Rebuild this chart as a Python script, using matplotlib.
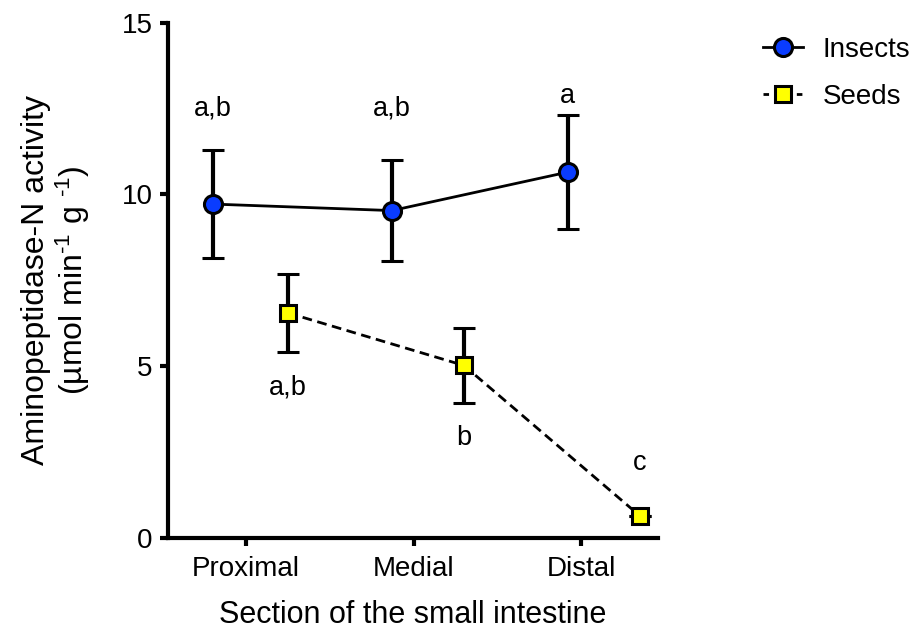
import numpy as np
import matplotlib.pyplot as plt
from matplotlib.lines import Line2D

plt.rcParams['font.family'] = ['Liberation Sans', 'DejaVu Sans']
plt.rcParams['mathtext.fontset'] = 'custom'
plt.rcParams['mathtext.rm'] = 'Liberation Sans'
plt.rcParams['mathtext.it'] = 'Liberation Sans'

# Data
sections = ['Proximal', 'Medial', 'Distal']
insects_mean = [9.72, 9.53, 10.65]
insects_err = [1.57, 1.48, 1.65]
seeds_mean = [6.55, 5.02, 0.64]
seeds_err = [1.13, 1.09, 0.0]
insects_letters = ['a,b', 'a,b', 'a']
seeds_letters = ['a,b', 'b', 'c']
insects_letter_y = [12.5, 12.5, 12.88]
seeds_letter_y = [4.37, 2.92, 2.19]

# horizontal dodge of each series around the category tick
insects_dx = np.array([-0.20, -0.13, -0.08])
seeds_dx = np.array([0.25, 0.30, 0.35])

x = np.arange(len(sections))

fig = plt.figure(figsize=(9.13, 6.32), dpi=100)
ax = fig.add_axes([0.184, 0.149, 0.537, 0.815])

ax.errorbar(x + insects_dx, insects_mean, yerr=insects_err, color='black',
            linestyle='-', linewidth=2, elinewidth=3, capsize=8, capthick=3,
            marker='o', markersize=13, markerfacecolor='#0a3cff',
            markeredgecolor='black', markeredgewidth=2.2, zorder=3)
ax.errorbar(x + seeds_dx, seeds_mean, yerr=seeds_err, color='black',
            linestyle='--', dashes=(3.5, 2), linewidth=2, elinewidth=3,
            capsize=8, capthick=3, marker='s', markersize=12,
            markerfacecolor='#ffff00', markeredgecolor='black',
            markeredgewidth=2.2, zorder=3)

# significance letters
for i in range(len(sections)):
    ax.text(x[i] + insects_dx[i], insects_letter_y[i], insects_letters[i],
            ha='center', va='center', fontsize=19.5)
    ax.text(x[i] + seeds_dx[i], seeds_letter_y[i], seeds_letters[i],
            ha='center', va='center', fontsize=19.5)

ax.set_xlim(-0.466, 2.46)
ax.set_ylim(0, 15)
ax.set_yticks([0, 5, 10, 15])
ax.set_xticks(x)
ax.set_xticklabels(sections)

for s in ['top', 'right']:
    ax.spines[s].set_visible(False)
for s in ['left', 'bottom']:
    ax.spines[s].set_linewidth(3)
ax.tick_params(width=3, length=6, labelsize=20, pad=5)
ax.tick_params(axis='x', pad=7)

ax.set_xlabel('Section of the small intestine', fontsize=22, labelpad=13)
ax.set_ylabel('Aminopeptidase-N activity\n(µmol min$^{\\text{-}1}$ g $^{\\text{-}1}$)',
              fontsize=23, linespacing=1.1)
ax.yaxis.set_label_coords(-0.155, 0.5)

handles = [
    Line2D([], [], color='black', linewidth=2, marker='o', markersize=13,
           markerfacecolor='#0a3cff', markeredgecolor='black',
           markeredgewidth=2.2),
    Line2D([], [], color='black', linewidth=2, linestyle='--', dashes=(2, 2),
           marker='s', markersize=12, markerfacecolor='#ffff00',
           markeredgecolor='black', markeredgewidth=2.2),
]
fig.legend(handles, ['Insects', 'Seeds'], loc='upper left',
           bbox_to_anchor=(0.808, 0.981), frameon=False, fontsize=20,
           handlelength=1.45, handletextpad=0.72, labelspacing=0.76)

fig.savefig('out.png', dpi=100)
